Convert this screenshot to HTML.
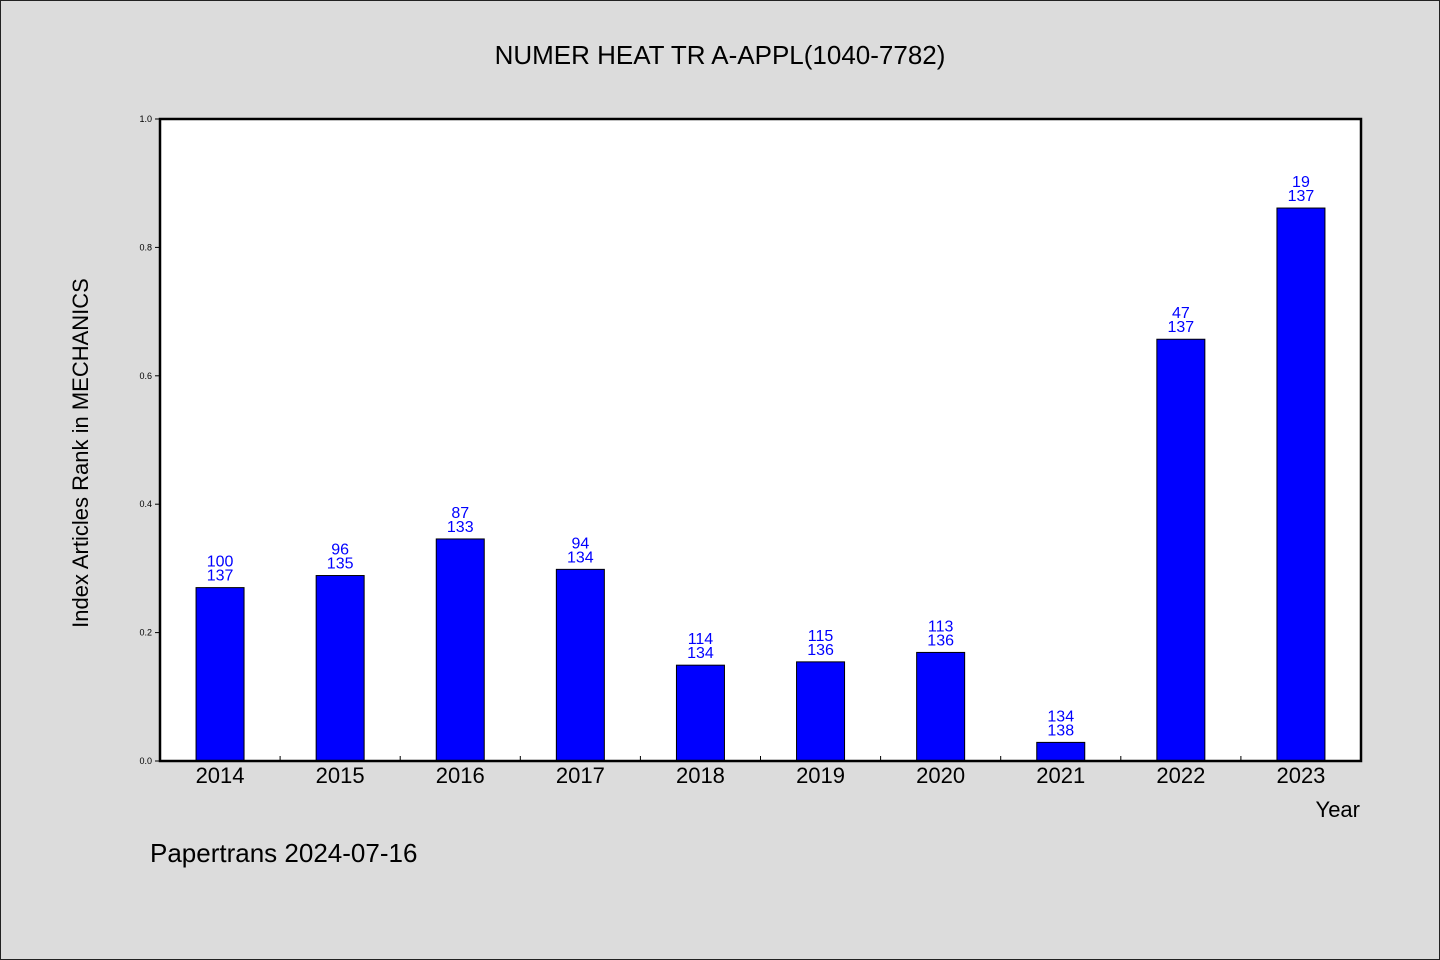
<!DOCTYPE html>
<html><head><meta charset="utf-8"><style>
html,body{margin:0;padding:0;background:#dcdcdc;}
svg{display:block;font-family:"WenQuanYi Zen Hei","Liberation Sans",sans-serif;}
</style></head><body>
<svg id="chart" width="1440" height="960">
<rect x="0.5" y="0.5" width="1439" height="959" fill="#dcdcdc" stroke="#222"/>
<text x="720" y="64" text-anchor="middle" font-size="26">NUMER HEAT TR A-APPL(1040-7782)</text>
<rect x="160" y="119" width="1201" height="642" fill="#fff"/>
<g id="yaxis"></g><g id="xaxis"></g><g id="bars"></g>
<rect x="160" y="119" width="1201" height="642" fill="none" stroke="#000" stroke-width="2.5"/>
<text transform="translate(88,453) rotate(-90)" text-anchor="middle" font-size="22">Index Articles Rank in MECHANICS</text>
<text x="1360" y="817" text-anchor="end" font-size="22">Year</text>
<text x="150" y="862" font-size="26">Papertrans 2024-07-16</text>
</svg>
<script>
const years=["2014","2015","2016","2017","2018","2019","2020","2021","2022","2023"];
const ranks=[100,96,87,94,114,115,113,134,47,19];
const totals=[137,135,133,134,134,136,136,138,137,137];
const yTicks=["0.0","0.2","0.4","0.6","0.8","1.0"];
const NS="http://www.w3.org/2000/svg";
const L=160,R=1361,T=119,B=761;
const bw=(R-L)/years.length;
const y=v=>B-v*(B-T);
const xc=i=>L+bw*(i+0.5);
function mk(tag,attrs,parent,text){const e=document.createElementNS(NS,tag);for(const k in attrs)e.setAttribute(k,attrs[k]);if(text!==undefined)e.textContent=text;parent.appendChild(e);return e;}
const ya=document.getElementById('yaxis'),xa=document.getElementById('xaxis'),bg=document.getElementById('bars');
yTicks.forEach(t=>{const v=parseFloat(t);
 const l=mk('line',{x1:L-5,x2:L,y1:y(v),y2:y(v),stroke:'#000'},ya);
 
 
 const tx=mk('text',{x:L-8,y:y(v)+3,'text-anchor':'end','font-size':9},ya,t);
 
 
});
years.forEach((yr,i)=>{
 if(i>0){const l=mk('line',{x1:L+bw*i,x2:L+bw*i,y1:B,y2:B-5,stroke:'#000'},xa);
 
 }
 const tx=mk('text',{x:xc(i),y:B+22,'text-anchor':'middle','font-size':22},xa,yr);
 
 
 const v=(totals[i]-ranks[i])/totals[i];
 const r=mk('rect',{x:xc(i)-24,y:y(v),width:48,height:B-y(v),fill:'#0000ff',stroke:'#000','stroke-width':1},bg);
 
 
 const a=mk('text',{x:xc(i),y:y(v)-21,'text-anchor':'middle','font-size':16,fill:'#0000ff'},bg,ranks[i]);
 
 
 const b=mk('text',{x:xc(i),y:y(v)-7,'text-anchor':'middle','font-size':16,fill:'#0000ff'},bg,totals[i]);
 
 
});
</script>
</body></html>
